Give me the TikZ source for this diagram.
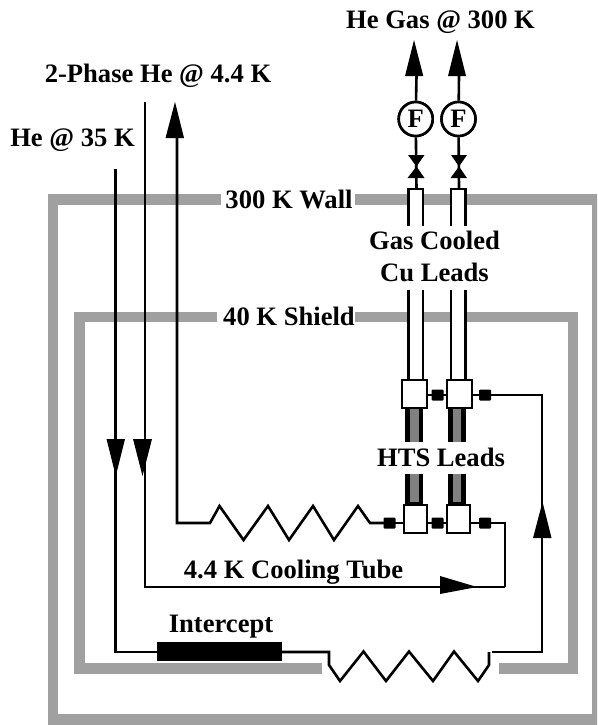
\documentclass[tikz,border=0pt]{standalone}
\usepackage{fontspec}
\setmainfont{Liberation Serif}
\definecolor{wallgray}{HTML}{A0A0A0}
\definecolor{leadgray}{HTML}{808080}
\tikzset{
  wall/.style={draw=wallgray,line width=10.5pt,line join=miter},
  pipe/.style={draw=black,line width=2.6pt,line join=miter},
  head/.style={fill=black,draw=none},
  lbl/.style={font=\bfseries\fontsize{26.6}{26.6}\selectfont,anchor=base,inner sep=0pt,outer sep=0pt},
  joint/.style={rectangle,fill=black,draw=none,minimum width=12pt,minimum height=11pt,inner sep=0pt,rounded corners=1pt},
  leadbox/.style={rectangle,draw=black,fill=white,line width=2.6pt,inner sep=0pt},
  meter/.style={circle,draw=black,fill=white,line width=2.6pt,minimum size=34pt,inner sep=0pt,font=\bfseries\fontsize{26.6}{26.6}\selectfont},
  block/.style={rectangle,fill=black,draw=none,inner sep=0pt},
}
\begin{document}
\begin{tikzpicture}[x=1pt,y=-1pt]
\useasboundingbox (0,0) rectangle (597,725);
% walls
\begin{scope}
\clip (0,0) rectangle (597,725);
\draw[wall] (221,199.5) -- (53,199.5) -- (53,719.5) -- (597.3,719.5) -- (597.3,199.5) -- (355,199.5);
\draw[wall] (217,317) -- (79.5,317) -- (79.5,668.5) -- (322,668.5);
\draw[wall] (355,317) -- (573,317) -- (573,668.5) -- (499,668.5);
\end{scope}
% nodes
\node[leadbox,minimum width=25pt,minimum height=28pt] (uA) at (414.5,394) {};
\node[leadbox,minimum width=25pt,minimum height=28pt] (uB) at (459.5,394) {};
\node[leadbox,minimum width=23pt,minimum height=28pt] (lA) at (415.5,519) {};
\node[leadbox,minimum width=23pt,minimum height=28pt] (lB) at (458.5,519) {};
\node[joint] (uJ1) at (437.5,395) {};
\node[joint] (uJ2) at (485,395) {};
\node[joint] (lJ0) at (389.5,523) {};
\node[joint] (lJ1) at (437.5,523) {};
\node[joint] (lJ2) at (485,523) {};
\node[block,minimum width=125pt,minimum height=19pt] (icpt) at (219.5,651.5) {};
\node[meter] (fA) at (415.7,119) {F};
\node[meter] (fB) at (458.5,119) {F};
\coordinate (t35) at (115.5,169);
\coordinate (t2p) at (145,102);
\coordinate (tret) at (177,138);
\coordinate (corner1) at (505,523);
\coordinate (corner2) at (505,587);
\coordinate (corner3) at (542,395);
\coordinate (corner4) at (542,652);
\coordinate (tA) at (416.5,76);
\coordinate (tB) at (459,76);
\coordinate (vA) at (416.5,189);
\coordinate (vB) at (459,189);
% HTS leads
\fill[black] (405,409) rectangle (423,442);
\fill[black] (405,474) rectangle (423,504);
\fill[black] (448,409) rectangle (466,442);
\fill[black] (448,474) rectangle (466,504);
\fill[leadgray] (410,409) rectangle (419,442);
\fill[leadgray] (410,474) rectangle (419,502);
\fill[leadgray] (453,409) rectangle (461,442);
\fill[leadgray] (453,474) rectangle (461,502);
% Cu leads
\fill[white] (409,189) rectangle (422.5,226);
\fill[white] (451.5,189) rectangle (465,226);
\fill[white] (409,290) rectangle (422.5,378);
\fill[white] (451.5,290) rectangle (465,378);
\draw[pipe] (408.5,226) -- (408.5,189) -- (423,189) -- (423,226);
\draw[pipe] (451,226) -- (451,189) -- (465.5,189) -- (465.5,226);
\draw[pipe] (408.5,290) -- (408.5,380);
\draw[pipe] (423,290) -- (423,380);
\draw[pipe] (451,290) -- (451,380);
\draw[pipe] (465.5,290) -- (465.5,380);
\node[leadbox,minimum width=25pt,minimum height=28pt] at (uA) {};
\node[leadbox,minimum width=25pt,minimum height=28pt] at (uB) {};
\node[leadbox,minimum width=23pt,minimum height=28pt] at (lA) {};
\node[leadbox,minimum width=23pt,minimum height=28pt] at (lB) {};
% top piping
\draw[pipe] (tA) -- (fA);
\draw[pipe] (tB) -- (fB);
\draw[pipe] (fA) -- (vA);
\draw[pipe] (fB) -- (vB);
\node[meter] at (fA) {F};
\node[meter] at (fB) {F};
\fill[head] (414,40) -- (423.3,76) -- (405,76) -- cycle;
\fill[head] (457,40) -- (466,76) -- (448,76) -- cycle;
\fill[head] (408,155) -- (424.5,155) -- (416.5,166.5) -- (424.5,178) -- (407.5,178) -- (416.5,166.5) -- cycle;
\fill[head] (451,155) -- (467,155) -- (459,166.5) -- (467,178) -- (450.5,178) -- (459,166.5) -- cycle;
% connectors
\draw[pipe] (uJ1.center) -- (uJ1.center -| uA.east);
\draw[pipe] (uJ1.center) -- (uJ1.center -| uB.west);
\draw[pipe] (uB.east |- uJ2.center) -- (uJ2.center) -- (corner3) -- (corner4) -- (492,652);
\draw[pipe] (lJ0.center) -- (lJ0.center -| lA.west);
\draw[pipe] (lA.east |- lJ1.center) -- (lJ1.center) -- (lJ1.center -| lB.west);
\draw[pipe] (lB.east |- lJ2.center) -- (lJ2.center) -- (corner1) -- (corner2);
\draw[pipe] (t35) -- (115.5,652) -- (icpt.west |- 0,652);
\draw[pipe] (t2p) -- (145,587) -- (corner2);
\draw[pipe] (tret) -- (177,523) -- (210,523) -- (219.5,506) -- (243.5,540) -- (268,506) -- (289,540) -- (313,506) -- (334,540) -- (358,506) -- (370,523) -- (lJ0.center);
\draw[pipe] (icpt.east |- 0,652) -- (329,652) -- (329,665) -- (340,681) -- (363.5,651.5) -- (386,681) -- (409,651.5) -- (433,681) -- (454,651.5) -- (478,681) -- (489,665) -- (489,652);
% arrowheads on connectors
\fill[head] (175,102) -- (184,138) -- (165.5,138) -- cycle;
\fill[head] (115.8,476) -- (106.5,439) -- (125,439) -- cycle;
\fill[head] (142.5,476) -- (133,439) -- (152,439) -- cycle;
\fill[head] (477,587) -- (440,576) -- (440,594) -- cycle;
\fill[head] (542.5,502) -- (551.5,538) -- (533,538) -- cycle;
% labels
\node[lbl] (l1) at (440.5,29) {He Gas @ 300 K};
\node[lbl] (l2) at (158,82) {2-Phase He @ 4.4 K};
\node[lbl] (l3) at (72.5,146) {He @ 35 K};
\node[lbl] (l4) at (289,208) {300 K Wall};
\node[lbl] (l5) at (434.5,249) {Gas Cooled};
\node[lbl] (l6) at (434.5,281) {Cu Leads};
\node[lbl] (l7) at (289,325) {40 K Shield};
\node[lbl] (l8) at (441,466) {HTS Leads};
\node[lbl] (l9) at (293.5,578) {4.4 K Cooling Tube};
\node[lbl] (l10) at (221,632) {Intercept};
\end{tikzpicture}
\end{document}
